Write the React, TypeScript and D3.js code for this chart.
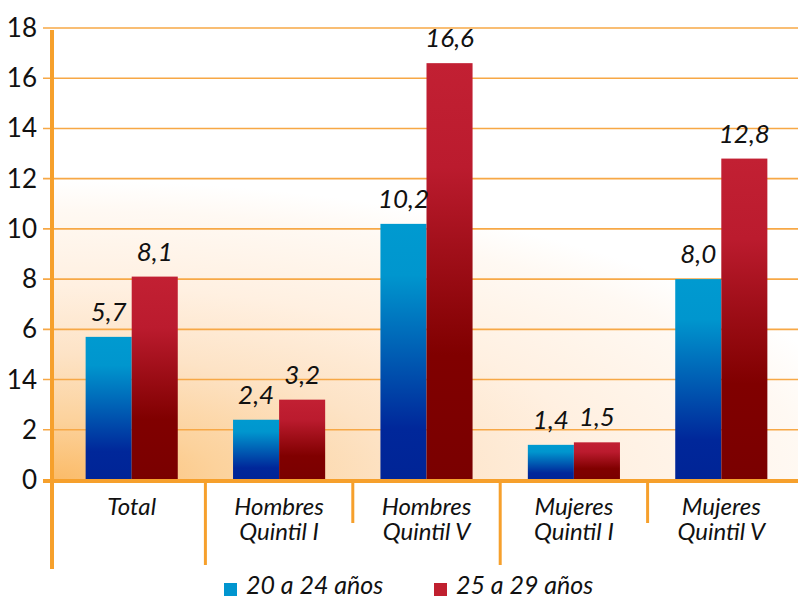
import React from "react";
import * as d3 from "d3";

// categories (each label split into lines)
const categories = ["Total", "Hombres Quintil I", "Hombres Quintil V", "Mujeres Quintil I", "Mujeres Quintil V"];
const categoryLines = [["Total"], ["Hombres", "Quintil I"], ["Hombres", "Quintil V"], ["Mujeres", "Quintil I"], ["Mujeres", "Quintil V"]];
const seriesNames = ["20 a 24 años", "25 a 29 años"];
const values20a24 = [5.7, 2.4, 10.2, 1.4, 8.0];
const values25a29 = [8.1, 3.2, 16.6, 1.5, 12.8];
const tickValues = [0, 2, 4, 6, 8, 10, 12, 14, 16, 18];
const tickLabels = ["0", "2", "14", "6", "8", "10", "12", "14", "16", "18"];

const W = 798;
const H = 599;
const FONT = "Lato, 'Open Sans', sans-serif";
const ORANGE = "#f6a02c";

export default function App() {
  const y = d3.scaleLinear().domain([0, 18]).range([480, 28]);
  const x0 = d3.scaleBand().domain(categories).range([58, 795]).paddingInner(0.375).paddingOuter(0.1875);
  const x1 = d3.scaleBand().domain(seriesNames).range([0, x0.bandwidth()]);
  const fmt = (v: number) => d3.format(".1f")(v).replace(".", ",");
  const step = x0.step();
  const plotL = 52;
  const plotT = 28;
  const plotB = 480;

  const series = [values20a24, values25a29];
  const grads = ["gBlue", "gRed"];

  return (
    <div style={{ position: "absolute", left: 0, top: 0 }}>
      <svg width={W} height={H} style={{ display: "block", background: "#fff" }}>
        <defs>
          <radialGradient
            id="bg"
            gradientUnits="userSpaceOnUse"
            cx={plotL}
            cy={plotB}
            r={300}
            fx={plotL}
            fy={plotB}
            gradientTransform={`translate(${plotL},${plotB}) scale(2.8,1) translate(${-plotL},${-plotB})`}
          >
            <stop offset="0" stopColor="#fbbb68" />
            <stop offset="0.2" stopColor="#fcd29c" />
            <stop offset="0.42" stopColor="#fde3c6" />
            <stop offset="0.65" stopColor="#fff0e1" />
            <stop offset="0.9" stopColor="#fff9f3" />
            <stop offset="1" stopColor="#ffffff" />
          </radialGradient>
          <linearGradient id="gBlue" x1="0" y1="0" x2="0" y2="1">
            <stop offset="0" stopColor="#009ad0" />
            <stop offset="0.2" stopColor="#0096ce" />
            <stop offset="0.8" stopColor="#00279a" />
            <stop offset="1" stopColor="#002496" />
          </linearGradient>
          <linearGradient id="gRed" x1="0" y1="0" x2="0" y2="1">
            <stop offset="0" stopColor="#c22033" />
            <stop offset="0.25" stopColor="#bb1b2e" />
            <stop offset="0.7" stopColor="#800000" />
            <stop offset="1" stopColor="#7a0000" />
          </linearGradient>
        </defs>

        <rect x={plotL} y={plotT} width={W - plotL} height={plotB - plotT} fill="url(#bg)" />

        {/* gridlines + y ticks */}
        {tickValues.map((t, i) => (
          <g key={t}>
            {t > 0 && (
              <line x1={43} x2={W} y1={y(t)} y2={y(t)} stroke="#f7a846" strokeWidth={1.6} />
            )}
            <text x={37} y={y(t) + 9} textAnchor="end" fontFamily={FONT} fontSize={26} fill="#111">
              {tickLabels[i]}
            </text>
          </g>
        ))}

        {/* bars */}
        {categories.map((c, ci) => (
          <g key={c} transform={`translate(${x0(c)},0)`}>
            {seriesNames.map((s, si) => {
              const v = series[si][ci];
              return (
                <rect key={s} x={x1(s)} y={y(v)} width={x1.bandwidth()} height={y(0) - y(v)} fill={`url(#${grads[si]})`} />
              );
            })}
            {seriesNames.map((s, si) => {
              const v = series[si][ci];
              return (
                <text
                  key={s + "l"}
                  x={(x1(s) as number) + x1.bandwidth() / 2}
                  y={y(v) - 16}
                  textAnchor="middle"
                  fontFamily={FONT}
                  fontStyle="italic"
                  fontSize={26}
                  fill="#111"
                >
                  {fmt(v)}
                </text>
              );
            })}
          </g>
        ))}

        {/* axes */}
        <line x1={plotL} x2={plotL} y1={30} y2={569} stroke={ORANGE} strokeWidth={4} />
        <line x1={43} x2={W} y1={481} y2={481} stroke={ORANGE} strokeWidth={4} />
        {categories.slice(1).map((c, i) => {
          const bx = (x0(c) as number) - (step * 0.375) / 2;
          return (
            <line key={c} x1={bx} x2={bx} y1={481} y2={i % 2 === 0 ? 565 : 523} stroke={ORANGE} strokeWidth={3} />
          );
        })}

        {/* category labels */}
        {categories.map((c, ci) => (
          <text key={c} textAnchor="middle" fontFamily={FONT} fontStyle="italic" fontSize={24} fill="#111">
            {categoryLines[ci].map((ln, li) => (
              <tspan key={li} x={(x0(c) as number) + x0.bandwidth() / 2} y={515 + li * 25}>
                {ln}
              </tspan>
            ))}
          </text>
        ))}

        {/* legend */}
        {seriesNames.map((s, si) => {
          const lx = [224, 434][si];
          return (
            <g key={s}>
              <rect x={lx} y={583} width={13} height={13} fill={["#0095cf", "#c0202f"][si]} />
              <text x={lx + 22} y={594} fontFamily={FONT} fontStyle="italic" fontSize={25} fill="#111">
                {s}
              </text>
            </g>
          );
        })}
      </svg>
    </div>
  );
}
